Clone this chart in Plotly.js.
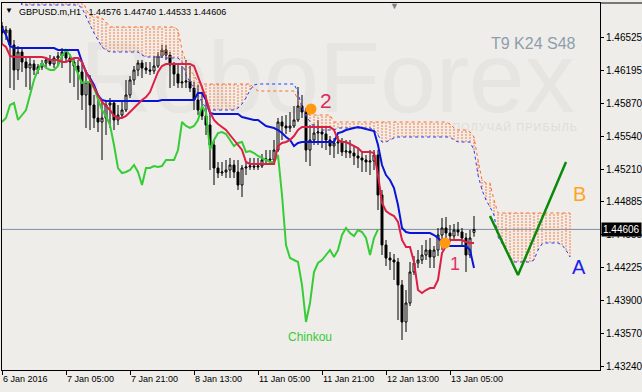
<!DOCTYPE html>
<html><head><meta charset="utf-8">
<script src="https://cdn.plot.ly/plotly-3.0.1.min.js"></script>
<style>
html,body{margin:0;padding:0;background:#eeede9;}
#wrap{position:relative;width:642px;height:392px;background:#eeede9;overflow:hidden;}
#wm{position:absolute;left:80px;top:27px;font-family:'Liberation Sans',Arial,sans-serif;font-size:100px;line-height:100px;color:#e6e5e1;white-space:nowrap;}
#wm2{position:absolute;left:415px;top:120px;width:200px;text-align:center;font-family:'Liberation Sans',Arial,sans-serif;font-size:11px;line-height:14px;letter-spacing:1px;color:#dfddd9;white-space:nowrap;}
#chart{position:absolute;left:0;top:0;width:642px;height:392px;}
</style>
</head><body><div id="wrap"><div id="wm">RoboForex</div><div id="wm2">ПОЛУЧАЙ ПРИБЫЛЬ</div><div id="chart"></div></div>
<script>
// ---- GBPUSD H1 candles (bar index 0 = 6 Jan 13:00) ----
const openP = [1.4664,1.4657,1.4660,1.4645,1.4620,1.4638,1.4628,1.4622,1.4626,1.4620,
1.4623,1.4627,1.4630,1.4626,1.4632,1.4634,1.4638,1.4632,1.4628,1.4624,
1.4618,1.4595,1.4608,1.4585,1.4572,1.4568,1.4572,1.4585,1.4587,1.4570,
1.4575,1.4580,1.4595,1.4610,1.4620,1.4627,1.4622,1.4620,1.4619,1.4624,
1.4634,1.4640,1.4635,1.4625,1.4616,1.4607,1.4608,1.4609,1.4602,1.4590,
1.4580,1.4574,1.4565,1.4545,1.4522,1.4517,1.4518,1.4520,1.4525,1.4518,
1.4505,1.4522,1.4523,1.4524,1.4523,1.4524,1.4530,1.4531,1.4530,1.4540,
1.4568,1.4564,1.4562,1.4564,1.4570,1.4584,1.4578,1.4540,1.4550,1.4557,
1.4558,1.4556,1.4550,1.4544,1.4547,1.4548,1.4538,1.4539,1.4537,1.4534,
1.4532,1.4530,1.4528,1.4529,1.4535,1.4495,1.4445,1.4432,1.4430,1.4428,
1.4405,1.4368,1.4387,1.4418,1.4427,1.4430,1.4435,1.4440,1.4433,1.4440,
1.4455,1.4462,1.4457,1.4454,1.4460,1.4458,1.4452,1.4435,1.44576];
const highP = [1.4668,1.4664,1.4662,1.4650,1.4644,1.4642,1.4632,1.4632,1.4630,1.4626,
1.4630,1.4632,1.4635,1.4634,1.4638,1.4642,1.4640,1.4636,1.4632,1.4630,
1.4626,1.4620,1.4615,1.4595,1.4590,1.4590,1.4590,1.4592,1.4590,1.4585,
1.4590,1.4610,1.4614,1.4624,1.4630,1.4630,1.4628,1.4628,1.4634,1.4638,
1.4645,1.4645,1.4638,1.4628,1.4626,1.4624,1.4630,1.4624,1.4608,1.4605,
1.4598,1.4595,1.4578,1.4550,1.4528,1.4528,1.4530,1.4532,1.4530,1.4530,
1.4525,1.4528,1.4532,1.4532,1.4532,1.4536,1.4540,1.4540,1.4550,1.4572,
1.4574,1.4575,1.4578,1.4584,1.4603,1.4595,1.4582,1.4565,1.4566,1.4570,
1.4562,1.4562,1.4554,1.4552,1.4554,1.4552,1.4550,1.4550,1.4544,1.4542,
1.4538,1.4535,1.4540,1.4540,1.4540,1.4500,1.4450,1.4438,1.4436,1.4432,
1.4410,1.4400,1.4428,1.4434,1.4440,1.4445,1.4450,1.4452,1.4444,1.4462,
1.4472,1.4473,1.4465,1.4466,1.4468,1.4462,1.4457,1.4460,1.44740];
const lowP = [1.4646,1.4650,1.4602,1.4600,1.4610,1.4618,1.4603,1.4600,1.4615,1.4616,
1.4620,1.4622,1.4624,1.4622,1.4624,1.4622,1.4628,1.4607,1.4603,1.4590,
1.4580,1.4562,1.4560,1.4562,1.4558,1.4530,1.4555,1.4562,1.4560,1.4565,
1.4572,1.4578,1.4592,1.4605,1.4614,1.4612,1.4616,1.4615,1.4616,1.4622,
1.4632,1.4630,1.4602,1.4604,1.4602,1.4602,1.4602,1.4598,1.4580,1.4575,
1.4570,1.4555,1.4520,1.4505,1.4512,1.4514,1.4512,1.4512,1.4512,1.4500,
1.4493,1.4515,1.4520,1.4520,1.4520,1.4522,1.4526,1.4525,1.4528,1.4538,
1.4550,1.4556,1.4558,1.4562,1.4568,1.4572,1.4528,1.4524,1.4545,1.4545,
1.4542,1.4540,1.4535,1.4532,1.4536,1.4534,1.4532,1.4532,1.4525,1.4522,
1.4518,1.4518,1.4515,1.4520,1.4480,1.4435,1.4424,1.4420,1.4410,1.4370,
1.4350,1.4358,1.4384,1.4415,1.4422,1.4426,1.4430,1.4422,1.4422,1.4434,
1.4440,1.4450,1.4448,1.4450,1.4454,1.4445,1.4418,1.4432,1.44533];
const closeP = [1.4657,1.4660,1.4645,1.4620,1.4638,1.4628,1.4622,1.4626,1.4620,1.4623,
1.4627,1.4630,1.4626,1.4632,1.4634,1.4638,1.4632,1.4628,1.4624,1.4618,
1.4595,1.4608,1.4585,1.4572,1.4568,1.4572,1.4585,1.4587,1.4570,1.4575,
1.4580,1.4595,1.4610,1.4620,1.4627,1.4622,1.4620,1.4619,1.4624,1.4634,
1.4640,1.4635,1.4625,1.4616,1.4607,1.4608,1.4609,1.4602,1.4590,1.4580,
1.4574,1.4565,1.4545,1.4522,1.4517,1.4518,1.4520,1.4525,1.4518,1.4505,
1.4522,1.4523,1.4524,1.4523,1.4524,1.4530,1.4531,1.4530,1.4540,1.4568,
1.4564,1.4562,1.4564,1.4570,1.4584,1.4578,1.4540,1.4550,1.4557,1.4558,
1.4556,1.4550,1.4544,1.4547,1.4548,1.4538,1.4539,1.4537,1.4534,1.4532,
1.4530,1.4528,1.4529,1.4535,1.4495,1.4445,1.4432,1.4430,1.4428,1.4405,
1.4368,1.4387,1.4418,1.4427,1.4430,1.4435,1.4440,1.4433,1.4440,1.4455,
1.4462,1.4457,1.4454,1.4460,1.4458,1.4452,1.4435,1.4452,1.44606];

// ---- Ichimoku (T9 K24 S48) ----
const tenkan = [1.4646,1.4643,1.4634,1.4633,1.4633,1.4633,1.4633,1.4633,1.4633,1.4633,
1.4633,1.4632,1.4630,1.4630,1.4630,1.4628,1.4628,1.4630,1.4632,1.4632,
1.4628,1.4618,1.4610,1.4602,1.4595,1.4588,1.4584,1.4580,1.4574,1.4572,
1.4572,1.4574,1.4578,1.4582,1.4587,1.4590,1.4593,1.4598,1.4608,1.4618,
1.4624,1.4626,1.4626,1.4626,1.4626,1.4626,1.4626,1.4626,1.4624,1.4614,
1.4602,1.4592,1.4578,1.4570,1.4566,1.4563,1.4560,1.4555,1.4550,1.4545,
1.4540,1.4528,1.4526,1.4526,1.4526,1.4526,1.4526,1.4526,1.4526,1.4544,
1.4547,1.4548,1.4550,1.4554,1.4560,1.4563,1.4563,1.4563,1.4563,1.4563,
1.4563,1.4563,1.4563,1.4560,1.4550,1.4548,1.4548,1.4546,1.4544,1.4542,
1.4538,1.4538,1.4538,1.4537,1.4515,1.4487,1.4479,1.4476,1.4474,1.4468,
1.4450,1.4443,1.4443,1.4428,1.4400,1.4397,1.4400,1.4402,1.4402,1.4410,
1.4437,1.4444,1.4450,1.4450,1.4450,1.4450,1.4448,1.4447,1.4447];
const kijun = [1.4662,1.4655,1.4644,1.4642,1.4642,1.4642,1.4642,1.4642,1.4642,1.4642,
1.4642,1.4642,1.4642,1.4642,1.4640,1.4640,1.4640,1.4640,1.4640,1.4640,
1.4628,1.4618,1.4612,1.4605,1.4595,1.4590,1.4589,1.4589,1.4589,1.4589,
1.4589,1.4589,1.4589,1.4589,1.4589,1.4589,1.4589,1.4589,1.4589,1.4589,
1.4590,1.4590,1.4590,1.4590,1.4590,1.4590,1.4590,1.4590,1.4590,1.4597,
1.4597,1.4590,1.4577,1.4576,1.4576,1.4576,1.4576,1.4576,1.4576,1.4576,
1.4573,1.4572,1.4571,1.4570,1.4570,1.4567,1.4564,1.4563,1.4562,1.4560,
1.4557,1.4553,1.4550,1.4544,1.4547,1.4548,1.4548,1.4548,1.4548,1.4548,
1.4548,1.4548,1.4548,1.4548,1.4557,1.4558,1.4560,1.4561,1.4562,1.4563,
1.4562,1.4561,1.4560,1.4559,1.4545,1.4525,1.4515,1.4510,1.4502,1.4485,
1.4462,1.4458,1.4457,1.4457,1.4457,1.4457,1.4457,1.4457,1.4455,1.4452,
1.4448,1.4445,1.4444,1.4444,1.4444,1.4444,1.4444,1.4440,1.4422];
// Chinkou: drawn 24 bars back
const chinkou = [1.4568,1.4572,1.4585,1.4587,1.4570,1.4575,1.4580,1.4595,1.4610,1.4620,
1.4627,1.4622,1.4620,1.4620,1.4624,1.4634,1.4640,1.4635,1.4625,1.4616,
1.4607,1.4608,1.4608,1.4602,1.4590,1.4580,1.4574,1.4565,1.4545,1.4522,
1.4517,1.4518,1.4520,1.4525,1.4518,1.4505,1.4522,1.4522,1.4524,1.4523,
1.4524,1.4530,1.4530,1.4530,1.4540,1.4568,1.4564,1.4562,1.4564,1.4570,
1.4584,1.4578,1.4540,1.4550,1.4557,1.4558,1.4556,1.4550,1.4544,1.4547,
1.4548,1.4538,1.4539,1.4537,1.4534,1.4532,1.4530,1.4528,1.4528,1.4535,
1.4495,1.4445,1.4432,1.4430,1.4428,1.4405,1.4368,1.4387,1.4418,1.4427,
1.4430,1.4435,1.4440,1.4433,1.4440,1.4455,1.4462,1.4457,1.4454,1.4460,
1.4458,1.4452,1.4435,1.4452,1.44606];
// Senkou spans: drawn 24 bars ahead (bar index 0..142)
const senkouA = [1.4695,1.4695,1.4695,1.4695,1.4695,1.4685,1.4685,1.4685,1.4685,1.4685,
1.4685,1.4685,1.4685,1.4685,1.4685,1.4685,1.4685,1.4685,1.4685,1.4685,
1.4682,1.4673,1.4665,1.4657,1.4650,1.4643,1.4640,1.4638,1.4638,1.4638,
1.4638,1.4638,1.4638,1.4638,1.4638,1.4635,1.4633,1.4633,1.4633,1.4633,
1.4633,1.4632,1.4632,1.4632,1.4632,1.4628,1.4615,1.4608,1.4602,1.4595,
1.4588,1.4582,1.4580,1.4580,1.4580,1.4580,1.4580,1.4580,1.4580,1.4582,
1.4586,1.4592,1.4600,1.4605,1.4606,1.4606,1.4606,1.4606,1.4606,1.4606,
1.4606,1.4606,1.4606,1.4606,1.4598,1.4582,1.4574,1.4568,1.4563,1.4562,
1.4560,1.4560,1.4560,1.4560,1.4562,1.4562,1.4562,1.4562,1.4562,1.4562,
1.4562,1.4562,1.4562,1.4560,1.4555,1.4548,1.4548,1.4550,1.4552,1.4553,
1.4553,1.4553,1.4553,1.4553,1.4553,1.4553,1.4553,1.4553,1.4553,1.4553,
1.4553,1.4553,1.4553,1.4550,1.4548,1.4548,1.4548,1.4548,1.4540,1.4515,
1.4500,1.4490,1.4483,1.4475,1.4453,1.4447,1.4440,1.4433,1.4428,1.4428,
1.4428,1.4428,1.4428,1.4430,1.4440,1.4446,1.4447,1.4447,1.4447,1.4447,
1.4445,1.4440,1.4433];
const senkouB = [1.4710,1.4710,1.4710,1.4710,1.4710,1.4710,1.4710,1.4710,1.4710,1.4710,
1.4710,1.4710,1.4710,1.4710,1.4710,1.4710,1.4710,1.4710,1.4710,1.4710,
1.4695,1.4680,1.4675,1.4673,1.4673,1.4672,1.4668,1.4663,1.4663,1.4663,
1.4663,1.4663,1.4663,1.4663,1.4663,1.4663,1.4663,1.4663,1.4663,1.4663,
1.4663,1.4663,1.4663,1.4663,1.4660,1.4640,1.4628,1.4620,1.4615,1.4608,
1.4606,1.4606,1.4606,1.4606,1.4606,1.4606,1.4606,1.4606,1.4606,1.4606,
1.4606,1.4606,1.4606,1.4602,1.4599,1.4599,1.4599,1.4599,1.4599,1.4599,
1.4599,1.4599,1.4599,1.4599,1.4590,1.4582,1.4577,1.4575,1.4575,1.4575,
1.4575,1.4575,1.4575,1.4568,1.4568,1.4568,1.4568,1.4568,1.4568,1.4568,
1.4568,1.4568,1.4568,1.4568,1.4568,1.4568,1.4568,1.4568,1.4568,1.4568,
1.4568,1.4568,1.4568,1.4568,1.4568,1.4568,1.4568,1.4568,1.4568,1.4568,
1.4568,1.4568,1.4566,1.4562,1.4560,1.4560,1.4560,1.4558,1.4553,1.4530,
1.4510,1.4507,1.4507,1.4490,1.4477,1.4477,1.4477,1.4477,1.4477,1.4477,
1.4477,1.4477,1.4477,1.4477,1.4477,1.4477,1.4477,1.4477,1.4477,1.4477,
1.4477,1.4477,1.4477];

// ---- axis labels ----
const timeTickIdx = [0,16,32,48,64,80,96,112];
const timeTickText = ['6 Jan 2016','7 Jan 05:00','7 Jan 21:00','8 Jan 13:00','11 Jan 05:00','11 Jan 21:00','12 Jan 13:00','13 Jan 05:00'];
const priceTicks = [1.46525,1.46195,1.45870,1.45540,1.45210,1.44885,1.44555,1.44225,1.43900,1.43570,1.43240];

// ---- analyst markup ----
const projX = [122,129,141];
const projY = [1.4474,1.4415,1.4528];
const pointX = [77.25,110.75];
const pointY = [1.4581,1.4447];
const pointLabels = ['2','1'];

const barIdx = closeP.map((_, i) => i);
const spanIdx = senkouA.map((_, i) => i);
const chIdx = chinkou.map((_, i) => i);

// cloud hatch (B above A)
const hx = [], hy = [];
senkouA.forEach((a, i) => { const b = senkouB[i]; if (b > a) { hx.push(i, i, null); hy.push(a, b, null); } });

const F = 'Liberation Sans, Arial, sans-serif';
const last = closeP.length - 1;
const px = v => (v - 2) / 598;
const py = v => (370 - v) / 367;

const traces = [
  {type:'candlestick', x: barIdx, open: openP, high: highP, low: lowP, close: closeP,
   increasing:{line:{color:'#000000', width:1}, fillcolor:'#ffffff'},
   decreasing:{line:{color:'#000000', width:1}, fillcolor:'#000000'},
   whiskerwidth:0, showlegend:false, hoverinfo:'skip'},
  {type:'scatter', mode:'lines', x: hx, y: hy, line:{color:'#ff7a3c', width:1, dash:'2px,1px'}, connectgaps:false, hoverinfo:'skip'},
  {type:'scatter', mode:'lines', x: spanIdx, y: senkouB, line:{color:'#ff6a2a', width:1, dash:'dot'}, hoverinfo:'skip'},
  {type:'scatter', mode:'lines', x: spanIdx, y: senkouA, line:{color:'#1f3dff', width:1, dash:'dot'}, hoverinfo:'skip'},
  {type:'scatter', mode:'lines', x: chIdx, y: chinkou, line:{color:'#36cc36', width:2}, hoverinfo:'skip'},
  {type:'scatter', mode:'lines', x: barIdx, y: kijun, line:{color:'#0a14d6', width:2}, hoverinfo:'skip'},
  {type:'scatter', mode:'lines', x: barIdx, y: tenkan, line:{color:'#dc1f45', width:2}, hoverinfo:'skip'},
  {type:'scatter', mode:'lines', x: projX, y: projY, line:{color:'#0a8a0a', width:2.5}, hoverinfo:'skip'},
  {type:'scatter', mode:'markers', x: pointX, y: pointY, marker:{color:'#ff9a10', size:11}, hoverinfo:'skip'}
];

const hdr = 'GBPUSD.m,H1\u00a0\u00a0\u00a0' + [openP[last], highP[last], lowP[last], closeP[last]].map(v => v.toFixed(5)).join(' ');

const layout = {
  width: 642, height: 392,
  margin: {l:2, r:42, t:3, b:22},
  paper_bgcolor:'rgba(0,0,0,0)', plot_bgcolor:'rgba(0,0,0,0)',
  showlegend:false, hovermode:false,
  font:{family:F, size:10, color:'#000'},
  xaxis:{range:[0,149.5], showgrid:false, zeroline:false, showline:true, mirror:true, linecolor:'#000', linewidth:1,
         tickmode:'array', tickvals: timeTickIdx, ticktext: timeTickText, ticks:'outside', ticklen:4, tickcolor:'#000',
         tickangle:0, ticklabelposition:'outside right', tickfont:{family:F, size:9, color:'#000'}, rangeslider:{visible:false}},
  yaxis:{range:[1.4320,1.4687], side:'right', showgrid:false, zeroline:false, showline:true, mirror:true, linecolor:'#000', linewidth:1,
         tickmode:'array', tickvals: priceTicks, tickformat:'.5f', ticks:'outside', ticklen:3, tickcolor:'#000',
         tickfont:{family:F, size:10, color:'#000'}},
  shapes:[
    {type:'line', xref:'paper', yref:'y', x0:0, x1:1, y0:closeP[last], y1:closeP[last], line:{color:'#7d8fa3', width:1}, layer:'below'},
    {type:'line', xref:'paper', yref:'paper', x0:1, x1:1.075, y0:1, y1:1, line:{color:'#000', width:1}}
  ],
  annotations:[
    {xref:'paper', yref:'paper', x:px(17), y:py(12), text:hdr, showarrow:false, xanchor:'left', yanchor:'middle',
     font:{family:F, size:9, color:'#000'}},
    {xref:'paper', yref:'paper', x:px(8.5), y:py(11), text:'▼', showarrow:false, xanchor:'center', yanchor:'middle',
     font:{family:F, size:8, color:'#000'}},
    {xref:'paper', yref:'paper', x:px(394), y:py(6), text:'▼', showarrow:false, xanchor:'center', yanchor:'middle',
     font:{family:F, size:9, color:'#808080'}},
    {xref:'paper', yref:'paper', x:px(533), y:py(43), text:'T9 K24 S48', showarrow:false, xanchor:'center', yanchor:'middle',
     font:{family:F, size:16, color:'#8e9dae'}},
    {xref:'paper', yref:'paper', x:px(310), y:py(337), text:'Chinkou', showarrow:false, xanchor:'center', yanchor:'middle',
     font:{family:F, size:12, color:'#36cc36'}},
    {xref:'paper', yref:'paper', x:px(326), y:py(100), text:pointLabels[0], showarrow:false, xanchor:'center', yanchor:'middle',
     font:{family:F, size:21, color:'#dc2a5a'}},
    {xref:'paper', yref:'paper', x:px(455), y:py(264), text:pointLabels[1], showarrow:false, xanchor:'center', yanchor:'middle',
     font:{family:F, size:18, color:'#e0306a'}},
    {xref:'paper', yref:'paper', x:px(579), y:py(194), text:'B', showarrow:false, xanchor:'center', yanchor:'middle',
     font:{family:F, size:20, color:'#ffa51f'}},
    {xref:'paper', yref:'paper', x:px(579), y:py(267), text:'A', showarrow:false, xanchor:'center', yanchor:'middle',
     font:{family:F, size:20, color:'#1c1cf0'}},
    {xref:'paper', yref:'y', x:1, y:closeP[last], text:closeP[last].toFixed(5), showarrow:false, xanchor:'left', yanchor:'middle',
     xshift:1, bgcolor:'#000', borderpad:1, font:{family:F, size:10, color:'#fff'}}
  ]
};

Plotly.newPlot('chart', traces, layout, {staticPlot:true, displayModeBar:false});
</script></body></html>
